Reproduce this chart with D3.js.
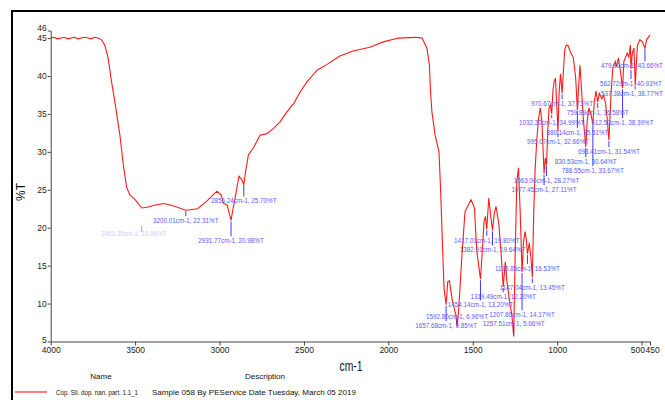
<!DOCTYPE html>
<html>
<head>
<meta charset="utf-8">
<script src="https://cdn.jsdelivr.net/npm/d3@7"></script>
<style>
  body { margin: 0; background: #fff; }
  text { font-family: "Liberation Sans", Arial, sans-serif; }
</style>
</head>
<body>
<div id="chart"></div>
<script>
// IR spectrum: wavenumber (cm-1) against transmittance (%T)
const wavenumbers = [4000, 3980, 3960, 3940, 3920, 3900, 3880, 3860, 3840, 3820, 3800, 3780, 3760, 3740, 3720, 3700,
  3680, 3660, 3640, 3620, 3590, 3570, 3550, 3530, 3500, 3460, 3430, 3380, 3330, 3275, 3200.01, 3130, 3075, 3040, 3015,
  2990, 2977, 2955, 2931.77, 2920, 2908, 2885, 2870, 2856.24, 2845, 2829, 2800, 2760, 2720, 2680, 2640, 2600, 2560,
  2520, 2480, 2420, 2365, 2290, 2210, 2110, 2030, 1940, 1840, 1800, 1772, 1757, 1750, 1742, 1723, 1700, 1690, 1680,
  1670, 1657.68, 1648, 1638, 1620, 1600, 1592.80, 1584, 1565, 1546, 1526, 1510, 1500, 1490, 1476, 1454.14, 1446, 1433,
  1425, 1417.01, 1405, 1392, 1382.91, 1372, 1362, 1345, 1330, 1319.49, 1307, 1298, 1280, 1268, 1257.51, 1249, 1239,
  1229, 1219, 1207.86, 1199, 1190, 1183, 1175.85, 1165, 1155, 1147.04, 1138, 1130, 1120, 1110, 1100, 1090, 1077.45,
  1070, 1063.00, 1055, 1048, 1040, 1032.30, 1025, 1018, 1010, 1002, 995.07, 988, 980, 970.67, 962, 955, 945, 935, 922,
  904, 890, 880.14, 872, 865, 855, 845, 830.53, 822, 812, 800, 788.55, 780, 770, 759.89, 750, 735, 725, 713, 703, 693.41,
  680, 670, 656, 650, 637, 625, 612.53, 605, 585, 575, 566, 562.72, 555, 545, 537.38, 525, 510, 495, 479.98, 470, 460, 450];

const transmittance = [45.0, 45.1, 44.9, 45.0, 45.1, 44.9, 45.0, 45.1, 44.9, 45.0, 45.1, 45.0, 44.9, 45.1, 45.0, 44.8,
  44.1, 42.4, 39.3, 36.6, 32.2, 28.3, 25.3, 24.3, 23.7, 22.6, 22.7, 23.0, 23.2, 22.9, 22.31, 22.5, 23.5, 24.3, 24.8,
  24.3, 23.2, 23.0, 20.98, 22.5, 23.9, 26.8, 26.4, 25.70, 27.5, 29.6, 30.5, 32.2, 32.4, 33.1, 34.0, 35.3, 36.4,
  38.0, 39.3, 40.8, 41.5, 42.6, 43.3, 43.8, 44.5, 45.0, 45.1, 45.0, 43.7, 41.5, 38.0, 35.3, 32.2, 30.0, 24.8, 18.2,
  12.0, 9.85, 12.9, 13.0, 10.3, 8.5, 6.96, 9.0, 16.0, 22.1, 23.0, 23.7, 23.2, 22.6, 16.9, 13.20, 16.0, 20.8,
  21.5, 19.80, 23.9, 21.3, 19.64, 22.0, 22.8, 20.4, 16.0, 12.20, 15.5, 13.0, 10.0, 8.5, 5.66, 16.0, 26.1,
  27.9, 22.1, 14.17, 18.2, 19.5, 18.5, 16.53, 18.0, 16.0, 13.45, 22.6, 27.9, 31.8, 34.4, 35.8, 34.0, 27.11,
  29.2, 28.27, 33.0, 35.8, 36.2, 34.99, 38.0, 39.3, 39.7, 36.0, 32.66, 38.0, 40.3, 37.73, 41.0, 43.5, 44.1, 44.0, 43.2,
  42.4, 39.7, 35.51, 39.0, 41.4, 38.0, 34.4, 30.64, 34.0, 35.8, 35.0, 33.67, 36.6, 38.0, 36.58, 37.7, 37.0, 37.5, 36.4, 34.2, 31.54,
  38.0, 41.1, 41.9, 41.2, 42.4, 40.6, 38.39, 41.9, 43.0, 42.5, 44.1, 40.93, 43.0, 43.7, 38.77, 44.0, 44.8, 44.5, 43.66, 44.8, 45.1, 45.4];

// labelled minima
const peakWn = [3200.01, 2931.77, 2856.24, 1657.68, 1592.80, 1454.14, 1417.01, 1382.91, 1319.49, 1257.51, 1207.86,
  1175.85, 1147.04, 1077.45, 1063.00, 1032.30, 995.07, 970.67, 880.14, 830.53, 788.55, 759.89, 693.41, 612.53,
  562.72, 537.38, 479.98];
const peakT = [22.31, 20.98, 25.70, 9.85, 6.96, 13.20, 19.80, 19.64, 12.20, 5.66, 14.17,
  16.53, 13.45, 27.11, 28.27, 34.99, 32.66, 37.73, 35.51, 30.64, 33.67, 36.58, 31.54, 38.39,
  40.93, 38.77, 43.66];
// where each label sits below its minimum (px)
const peakLabelDy = [13, 23, 19, 23.6, -7.6, 28, 13.5, 22, 12.4, -10.5, 45.4,
  16.7, 12.6, 18.5, 18, 11, 12.6, 12.8, 25, 17, 49, 13, 14, 37,
  17, 11, 20];

const xTicks = [4000, 3500, 3000, 2500, 2000, 1500, 1000, 500, 450];
const yTicks = [5, 10, 15, 20, 25, 30, 35, 40, 45, 46];

const legendName = "Cop. Sil. dop. nan. part. 1.1_1";
const legendDesc = "Sample 058 By PEService Date Tuesday, March 05 2019";

const W = 665, H = 400;
const svg = d3.select("#chart").append("svg")
  .attr("width", W).attr("height", H);

// outer frame
svg.append("rect")
  .attr("x", 12).attr("y", 11).attr("width", 700).attr("height", 450)
  .attr("fill", "none").attr("stroke", "#000").attr("stroke-width", 2);

const x = d3.scaleLinear().domain([4000, 450]).range([50.7, 650]);
const y = d3.scaleLinear().domain([5, 46]).range([341.5, 30.5]);

// x axis
const gx = svg.append("g")
  .attr("transform", "translate(0," + y(5) + ")")
  .call(d3.axisBottom(x).tickValues(xTicks).tickSize(4).tickSizeOuter(0).tickPadding(1)
    .tickFormat(d3.format("d")));
gx.selectAll("text").attr("font-size", 8.5).attr("fill", "#222")
  .attr("font-family", "'Liberation Sans', Arial, sans-serif");
gx.selectAll("text").filter(d => d == 500).attr("text-anchor", "end").attr("dx", 3);
gx.selectAll("text").filter(d => d == 450).attr("text-anchor", "start").attr("dx", -5);
gx.selectAll("line, path").attr("stroke", "#444");

// y axis
const gy = svg.append("g")
  .attr("transform", "translate(" + x(4000) + ",0)")
  .call(d3.axisLeft(y).tickValues(yTicks).tickSize(3).tickSizeOuter(0).tickPadding(1));
gy.selectAll("text").attr("font-size", 8.5).attr("fill", "#222")
  .attr("font-family", "'Liberation Sans', Arial, sans-serif");
gy.selectAll("text").filter(d => d == 46).attr("dy", "-0.05em");
gy.selectAll("text").filter(d => d == 5).attr("dy", "0.1em");
gy.selectAll("line, path").attr("stroke", "#444");

// axis titles
svg.append("text")
  .attr("transform", "translate(25,192) rotate(-90)")
  .attr("text-anchor", "middle")
  .attr("font-size", 12).attr("fill", "#111")
  .text("%T");
svg.append("text")
  .attr("x", 351).attr("y", 371)
  .attr("text-anchor", "middle")
  .attr("font-size", 14).attr("fill", "#111")
  .attr("textLength", 23).attr("lengthAdjust", "spacingAndGlyphs")
  .text("cm-1");

// spectrum
const spectrum = wavenumbers.map((w, i) => [w, transmittance[i]]);
svg.append("path")
  .datum(spectrum)
  .attr("fill", "none")
  .attr("stroke", "#ff1a1a")
  .attr("stroke-width", 1.1)
  .attr("d", d3.line().x(d => x(d[0])).y(d => y(d[1])));

// peak labels
const peaks = peakWn.map((w, i) => ({ w: w, t: peakT[i], dy: peakLabelDy[i] }));
const pg = svg.append("g");
pg.selectAll("line").data(peaks).enter().append("line")
  .attr("x1", d => x(d.w)).attr("x2", d => x(d.w))
  .attr("y1", d => d.dy > 0 ? y(d.t) + 1 : y(d.t) - 2)
  .attr("y2", d => d.dy > 0 ? y(d.t) + d.dy - 7 : y(d.t) + d.dy - 1)
  .attr("stroke", "#3a3aff").attr("stroke-width", 1);
pg.selectAll("text").data(peaks).enter().append("text")
  .attr("x", d => Math.min(x(d.w), 632)).attr("y", d => y(d.t) + d.dy)
  .attr("text-anchor", "middle")
  .attr("font-size", 6.3).attr("fill", "#5a5aff")
  .text(d => d.w.toFixed(2) + "cm-1, " + d.t.toFixed(2) + "%T");

// faint label hidden behind the broad band
svg.append("line")
  .attr("x1", x(3461)).attr("x2", x(3461)).attr("y1", 226).attr("y2", 232)
  .attr("stroke", "#3a3aff").attr("opacity", 0.5);
svg.append("text")
  .attr("x", x(3461) - 8).attr("y", 235.5).attr("text-anchor", "middle")
  .attr("font-size", 6.3).attr("fill", "#9a9aff").attr("opacity", 0.5)
  .text("3461.35cm-1, 18.96%T");

// legend
svg.append("text").attr("x", 101).attr("y", 379).attr("text-anchor", "middle")
  .attr("font-size", 8).attr("fill", "#111").text("Name");
svg.append("text").attr("x", 265).attr("y", 379).attr("text-anchor", "middle")
  .attr("font-size", 8).attr("fill", "#111").text("Description");
svg.append("line").attr("x1", 15).attr("x2", 47).attr("y1", 392).attr("y2", 392)
  .attr("stroke", "#ff5050").attr("stroke-width", 1.5);
svg.append("text").attr("x", 56).attr("y", 395)
  .attr("font-size", 8).attr("fill", "#111")
  .attr("textLength", 82).attr("lengthAdjust", "spacingAndGlyphs")
  .text(legendName);
svg.append("text").attr("x", 152).attr("y", 395)
  .attr("font-size", 8).attr("fill", "#111")
  .attr("textLength", 204).attr("lengthAdjust", "spacingAndGlyphs")
  .text(legendDesc);
</script>
</body>
</html>
